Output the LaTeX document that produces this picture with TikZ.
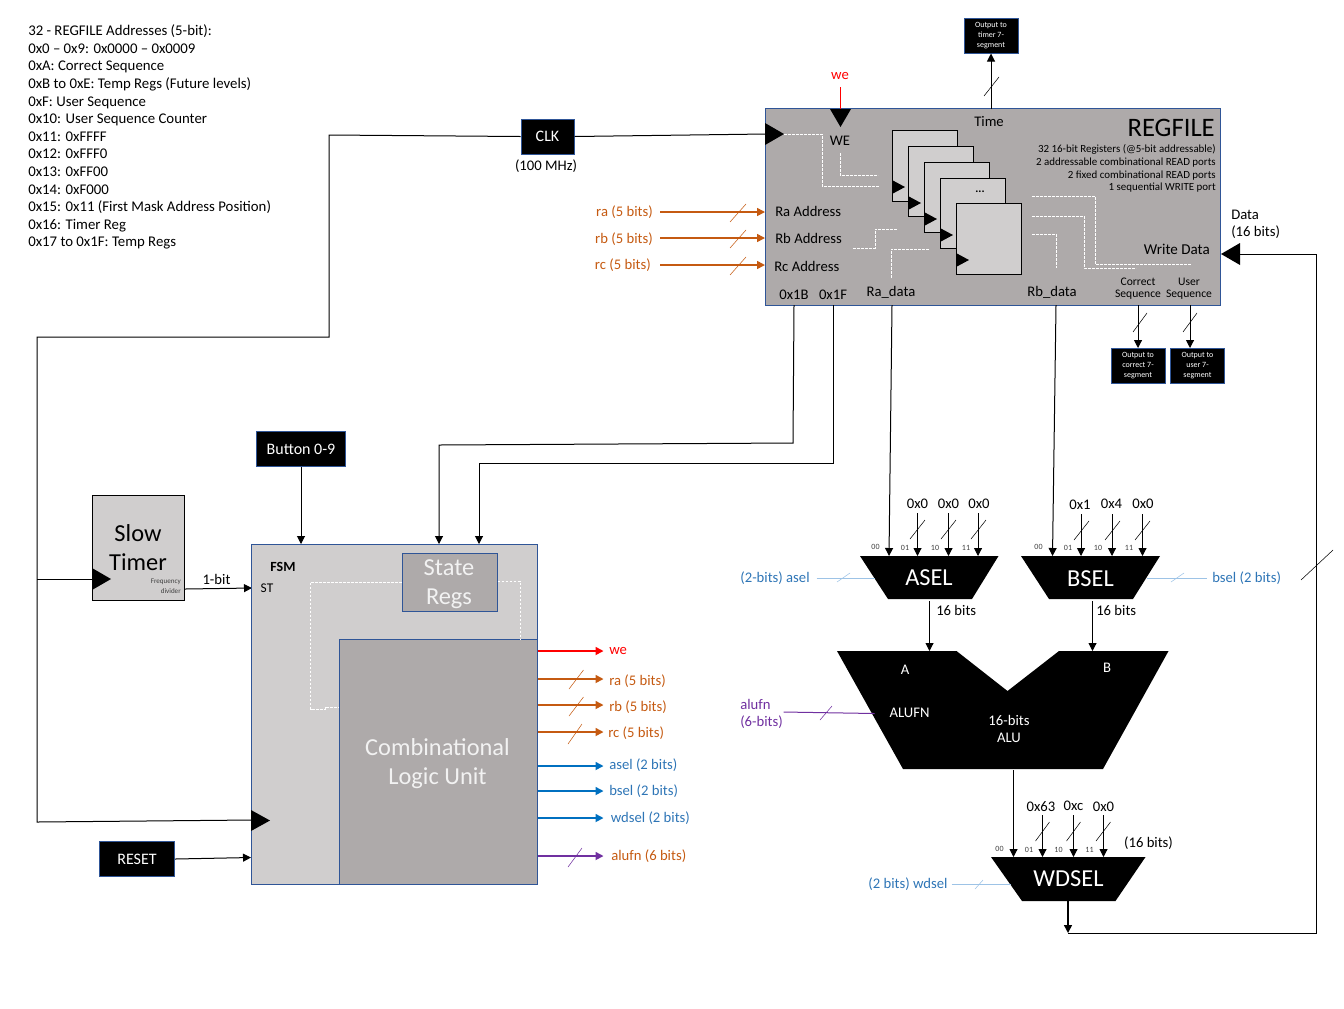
\documentclass[tikz,border=0pt]{standalone}
\usepackage{fontspec}
\setmainfont{Carlito}
\usepackage{xcolor}
\usetikzlibrary{arrows.meta,calc}
\definecolor{boxblue}{HTML}{2F5597}
\definecolor{lgrey}{HTML}{D0CECE}
\definecolor{mgrey}{HTML}{AEAAAA}
\definecolor{sigorange}{HTML}{C55A11}
\definecolor{sigblue}{HTML}{0070C0}
\definecolor{txtblue}{HTML}{2E75B6}
\definecolor{sigpurple}{HTML}{7030A0}
\definecolor{selblue}{HTML}{9DC3E6}
\tikzset{
  lbl/.style={inner sep=0pt,yshift=-0.5pt,font=\fontsize{11}{13}\selectfont},
  lblsmall/.style={inner sep=0pt,yshift=-0.5pt,font=\fontsize{8.7}{9.6}\selectfont},
  lblalu/.style={inner sep=0pt,text=white,font=\fontsize{11}{12.75}\selectfont},
  lblbig/.style={inner sep=0pt,yshift=-1pt,font=\fontsize{18.3}{22}\selectfont,align=center},
  pinlbl/.style={inner sep=0pt,text=black!75,font=\fontsize{6}{7}\selectfont},
  blackbox/.style={draw=boxblue,fill=black,text=white,inner sep=0pt,line width=0.75pt,align=center},
  btnbox/.style={blackbox,minimum height=26.25pt,font=\fontsize{12}{14}\selectfont},
  outbox/.style={blackbox,font=\fontsize{6}{7.5}\selectfont,minimum width=40.5pt,minimum height=26.25pt},
  wire/.style={line width=0.75pt},
  slash/.style={line width=0.4pt},
  dashwhite/.style={white,line width=0.75pt,dash pattern=on 2.2pt off 0.8pt},
  sig/.style={->,line width=1.2pt},
}
\begin{document}
\begin{tikzpicture}[x=0.75pt,y=-0.75pt,>={Triangle[length=6pt,width=6pt]},line join=miter]
  \useasboundingbox (0,0) rectangle (1344,1008);
  % address notes
  \node[lbl,anchor=north west,align=left,font=\fontsize{11.1}{13.2}\selectfont] (NOTES) at (28,24) {32 - REGFILE Addresses (5-bit):\\0x0 – 0x9: 0x0000 – 0x0009\\0xA: Correct Sequence\\0xB to 0xE: Temp Regs (Future levels)\\0xF: User Sequence\\0x10: User Sequence Counter\\0x11: 0xFFFF\\0x12: 0xFFF0\\0x13: 0xFF00\\0x14: 0xF000\\0x15: 0x11 (First Mask Address Position)\\0x16: Timer Reg\\0x17 to 0x1F: Temp Regs};
  % regfile
  \draw[boxblue,fill=mgrey,line width=0.75pt] (765.5,108.5) rectangle (1220.5,305);
  \coordinate (RFCLK) at (766,134);
  \coordinate (RFWE) at (840,109);
  \coordinate (RFTIME) at (991,109);
  \coordinate (RFWD) at (1240,254);
  \coordinate (RFA) at (794,305);
  \coordinate (RFF) at (833,305);
  \coordinate (RFRA) at (892,305);
  \coordinate (RFRB) at (1056,305);
  \coordinate (RFCS) at (1138,305);
  \coordinate (RFUS) at (1190,305);
  \coordinate (INRA) at (660,212);
  \coordinate (INRB) at (660,238);
  \coordinate (INRC) at (660,265);
  \coordinate (OUTRA) at (765,212);
  \coordinate (OUTRB) at (765,238);
  \coordinate (OUTRC) at (765,265);
  \draw[black,fill=lgrey,line width=0.75pt] (892,130) rectangle (957,201);
  \draw[black,fill=lgrey,line width=0.75pt] (908,146) rectangle (973,216);
  \draw[black,fill=lgrey,line width=0.75pt] (924,162) rectangle (989,232);
  \draw[black,fill=lgrey,line width=0.75pt] (940,178) rectangle (1005,248);
  \draw[black,fill=lgrey,line width=0.75pt] (956,203) rectangle (1021,274);
  \fill (892,180) -- (905,187) -- (892,194) -- cycle;
  \fill (908,196) -- (921,203) -- (908,210) -- cycle;
  \fill (924,212) -- (937,219) -- (924,226) -- cycle;
  \fill (940,228) -- (953,235) -- (940,242) -- cycle;
  \fill (956,253) -- (969,260) -- (956,267) -- cycle;
  \node[lblsmall] (DOTS) at (980,191) {\textbf{...}};
  \fill (765,123) -- (784,134) -- (765,145) -- cycle;
  \fill (830,109) -- (851,109) -- (840.5,127) -- cycle;
  \fill (1221,254) -- (1240,243) -- (1240,265) -- cycle;
  \draw[dashwhite] (784,134) -- (822,134) -- (822,186) -- (879,186);
  \draw[dashwhite] (840,153) -- (840,175) -- (878,175);
  \draw[dashwhite] (853,248) -- (875,248) -- (875,229) -- (897,229);
  \draw[dashwhite] (891,278) -- (891,249) -- (929,249);
  \draw[dashwhite] (1032,196) -- (1095,196) -- (1095,264) -- (1191,264);
  \draw[dashwhite] (1032,216) -- (1084,216) -- (1084,268) -- (1136,268);
  \draw[dashwhite] (1032,234) -- (1056,234) -- (1056,268);
  \node[lbl] (LTIME) at (989,121) {Time};
  \node[inner sep=0pt,font=\fontsize{20}{24}\selectfont,anchor=east] (LREGFILE) at (1215,128) {REGFILE};
  \node[lblsmall,anchor=north east,align=right,font=\fontsize{8.2}{9.5}\selectfont] (LSPEC) at (1216,144) {32 16-bit Registers (@5-bit addressable)\\2 addressable combinational READ ports\\2 fixed combinational READ ports\\1 sequential WRITE port};
  \node[lbl] (LWE) at (840,140) {WE};
  \node[lbl,anchor=west] (LRA) at (775,211) {Ra Address};
  \node[lbl,anchor=west] (LRB) at (775,238) {Rb Address};
  \node[lbl,anchor=west] (LRC) at (774,266) {Rc Address};
  \node[lbl] (L1B) at (794,294) {0x1B};
  \node[lbl] (L1F) at (833,294) {0x1F};
  \node[lbl] (LRAD) at (891,292) {Ra\_data};
  \node[lbl] (LRBD) at (1052,292) {Rb\_data};
  \node[lbl,anchor=east,font=\fontsize{11.3}{13}\selectfont] (LWD) at (1210,249) {Write Data};
  \node[lblsmall,align=center] (LCS) at (1138,288) {Correct\\Sequence};
  \node[lblsmall,align=center] (LUS) at (1189,288) {User\\Sequence};
  % seven segment outputs
  \node[outbox] (TIMERSEG) at (991,35.5) {Output to\\timer 7-\\segment};
  \node[outbox] (CORRSEG) at (1138,365.5) {Output to\\correct 7-\\segment};
  \node[outbox] (USERSEG) at (1197.5,365.5) {Output to\\user 7-\\segment};
  \coordinate (CORRIN) at (1138,348);
  \coordinate (USERIN) at (1190,348);
  \draw[->,wire] (RFTIME) -- (TIMERSEG.south);
  \draw[->,wire] (RFCS) -- (CORRIN);
  \draw[->,wire] (RFUS) -- (USERIN);
  \draw[slash] (984,96) -- (999,77);
  \draw[slash] (1133,332) -- (1147,313);
  \draw[slash] (1183,332) -- (1197,313);
  % write enable
  \node[lbl,text=red] (TOPWE) at (840,75) {we};
  \coordinate (WEIN) at (840,87);
  \draw[red,wire] (WEIN) -- (RFWE);
  % register address inputs
  \node[lbl,text=sigorange,anchor=east] (TOPRA) at (653,211) {ra (5 bits)};
  \node[lbl,text=sigorange,anchor=east] (TOPRB) at (653,238) {rb (5 bits)};
  \node[lbl,text=sigorange,anchor=east] (TOPRC) at (651,264) {rc (5 bits)};
  \draw[sig,sigorange] (INRA) -- (OUTRA);
  \draw[sig,sigorange] (INRB) -- (OUTRB);
  \draw[sig,sigorange] (INRC) -- (OUTRC);
  \draw[slash,sigorange] (730,222) -- (746,204);
  \draw[slash,sigorange] (730,248) -- (746,230);
  \draw[slash,sigorange] (730,275) -- (746,257);
  % clock
  \node[btnbox,minimum width=39.75pt] (CLK) at (547.5,136.5) {CLK};
  \node[lbl] (LCLK) at (546,165) {(100 MHz)};
  \coordinate (C1) at (329,135);
  \coordinate (C2) at (329,337);
  \coordinate (C3) at (37,337);
  \coordinate (C4) at (37,822);
  \coordinate (C5) at (37,579);
  \coordinate (FSMCLK) at (252,820);
  \coordinate (SLOWCLK) at (93,579);
  \draw[wire] (CLK.west) -- (C1) -- (C2) -- (C3) -- (C4) -- (FSMCLK);
  \draw[wire] (C5) -- (SLOWCLK);
  \draw[wire] (CLK.east) -- (RFCLK);
  % slow timer
  \draw[black,fill=lgrey,line width=0.75pt] (92.5,495.5) rectangle (184.5,600.5);
  \node[lblbig] (LSLOW) at (138,546.5) {Slow\\Timer};
  \node[inner sep=0pt,anchor=east,align=right,text=black!75,font=\fontsize{5.3}{7.4}\selectfont] (LFREQ) at (181,586) {Frequency\\divider};
  \fill (92,568) -- (111,579) -- (92,590) -- cycle;
  \coordinate (SLOWOUT) at (185,589);
  \coordinate (FSMST) at (252,588);
  \draw[->,wire] (SLOWOUT) -- (FSMST);
  \node[lbl] (L1BIT) at (216.5,579) {1-bit};
  % fsm
  \draw[boxblue,fill=lgrey,line width=0.75pt] (251.5,544.5) rectangle (537.5,884.5);
  \draw[boxblue,fill=mgrey,line width=0.75pt] (339.5,639.5) rectangle (537.5,884.5);
  \draw[boxblue,fill=mgrey,line width=0.75pt] (402.5,553.5) rectangle (497.5,611.5);
  \draw[dashwhite] (402,582) -- (310.5,582) -- (310.5,709) -- (325,709) -- (325,707) -- (339,707);
  \draw[dashwhite] (497.5,581) -- (520,581) -- (520,639);
  \node[lblbig,text=white!95!black] (LSTATE) at (449,582.5) {State\\Regs};
  \node[lblbig,text=white!95!black] (LCOMB) at (437.5,762.5) {Combinational\\Logic Unit};
  \node[inner sep=0pt,font=\fontsize{10.5}{12}\bfseries\selectfont] (LFSM) at (283,566.5) {FSM};
  \node[lbl,font=\fontsize{10}{12}\selectfont] (LST) at (267,588) {ST};
  \fill (251,810) -- (270,820.5) -- (251,831) -- cycle;
  \node[btnbox,minimum width=66.75pt] (BTN) at (301,449) {Button 0-9};
  \node[btnbox,minimum width=56.25pt] (RST) at (137,859) {RESET};
  \coordinate (FSMBTN) at (301,544);
  \coordinate (FSMRST) at (251,857.5);
  \coordinate (FSMA) at (439,544);
  \coordinate (FSMF) at (479,544);
  \coordinate (F1) at (793,443);
  \coordinate (F2) at (439,445);
  \coordinate (F3) at (833,463);
  \coordinate (F4) at (479,463);
  \draw[->,wire] (BTN.south) -- (FSMBTN);
  \draw[->,wire] (RST.east) -- (FSMRST);
  \draw[->,wire] (RFA) -- (F1) -- (F2) -- (FSMA);
  \draw[->,wire] (RFF) -- (F3) -- (F4) -- (FSMF);
  % control outputs
  \coordinate (CW) at (537.5,651);
  \coordinate (CRA) at (537.5,679);
  \coordinate (CRB) at (537.5,705);
  \coordinate (CRC) at (537.5,732);
  \coordinate (CAS) at (537.5,766);
  \coordinate (CBS) at (537.5,791);
  \coordinate (CWD) at (537.5,818);
  \coordinate (CAF) at (537.5,856);
  \node[lbl,text=red,anchor=west] (OWE) at (609,650.5) {we};
  \node[lbl,text=sigorange,anchor=west] (ORA) at (609,680) {ra (5 bits)};
  \node[lbl,text=sigorange,anchor=west] (ORB) at (609,706) {rb (5 bits)};
  \node[lbl,text=sigorange,anchor=west] (ORC) at (608,732) {rc (5 bits)};
  \node[lbl,text=txtblue,anchor=west] (OAS) at (609,764) {asel (2 bits)};
  \node[lbl,text=txtblue,anchor=west] (OBS) at (609,790) {bsel (2 bits)};
  \node[lbl,text=txtblue,anchor=west] (OWD) at (610.5,817) {wdsel (2 bits)};
  \node[lbl,text=sigorange,anchor=west] (OAF) at (611,855) {alufn (6 bits)};
  \draw[sig,red] (CW) -- +(66,0);
  \draw[sig,sigorange] (CRA) -- +(66,0);
  \draw[sig,sigorange] (CRB) -- +(66,0);
  \draw[sig,sigorange] (CRC) -- +(66,0);
  \draw[sig,sigblue] (CAS) -- +(66,0);
  \draw[sig,sigblue] (CBS) -- +(66,0);
  \draw[sig,sigblue] (CWD) -- +(66,0);
  \draw[sig,sigpurple] (CAF) -- +(66,0);
  \draw[slash,sigorange] (569,689) -- (583.5,670);
  \draw[slash,sigorange] (569,716) -- (583.5,697);
  \draw[slash,sigorange] (568,744) -- (582,724);
  \draw[slash,sigpurple] (568,867) -- (582,848);
  % asel
  \fill (860,556) -- (998.5,556) -- (972,599) -- (888,599) -- cycle;
  \node[lblbig,text=white] (LASEL) at (929,576) {ASEL};
  \coordinate (A00) at (889,556);
  \coordinate (A01) at (917.5,556);
  \coordinate (A10) at (948.5,556);
  \coordinate (A11) at (978,556);
  \node[lbl] (VA1) at (917.5,503) {0x0};
  \node[lbl] (VA2) at (948.5,503) {0x0};
  \node[lbl] (VA3) at (979,503) {0x0};
  \draw[->,wire] (RFRA) -- (A00);
  \draw[->,wire] (917.5,513) -- (A01);
  \draw[->,wire] (948.5,513) -- (A10);
  \draw[->,wire] (978,513) -- (A11);
  \draw[slash] (910,539) -- (925,520);
  \draw[slash] (941,539) -- (956,520);
  \draw[slash] (971,539) -- (986,520);
  \node[pinlbl] (PA0) at (875.5,547) {00};
  \node[pinlbl] (PA1) at (905,548) {01};
  \node[pinlbl] (PA2) at (935,548) {10};
  \node[pinlbl] (PA3) at (966,548) {11};
  \node[lbl,text=txtblue] (LAS) at (775,577) {(2-bits) asel};
  \draw[selblue,wire] (816.5,578) -- (875,578);
  \draw[slash,selblue] (837,582) -- (850,573);
  % bsel
  \fill (1021,556) -- (1160,556) -- (1133,599) -- (1049,599) -- cycle;
  \node[lblbig,text=white] (LBSEL) at (1090.5,577) {BSEL};
  \coordinate (B00) at (1052.5,556);
  \coordinate (B01) at (1081,556);
  \coordinate (B10) at (1112,556);
  \coordinate (B11) at (1142.5,556);
  \node[lbl] (VB1) at (1080,504) {0x1};
  \node[lbl] (VB2) at (1111.5,503) {0x4};
  \node[lbl] (VB3) at (1143,503) {0x0};
  \draw[->,wire] (RFRB) -- (B00);
  \draw[->,wire] (1081,514) -- (B01);
  \draw[->,wire] (1112,514) -- (B10);
  \draw[->,wire] (1142.5,514) -- (B11);
  \draw[slash] (1074,540) -- (1089,521);
  \draw[slash] (1105,540) -- (1120,521);
  \draw[slash] (1135,540) -- (1150,521);
  \node[pinlbl] (PB0) at (1038.5,547) {00};
  \node[pinlbl] (PB1) at (1068,548) {01};
  \node[pinlbl] (PB2) at (1098,548) {10};
  \node[pinlbl] (PB3) at (1129,548) {11};
  \node[lbl,text=txtblue,anchor=west] (LBS) at (1212,577) {bsel (2 bits)};
  \draw[selblue,wire] (1147,578) -- (1206.5,578);
  \draw[slash,selblue] (1171,582) -- (1184,573);
  % alu
  \fill (837,651) -- (956.5,651) -- (1007.5,691) -- (1059,651) -- (1168.5,651) -- (1103,769) -- (903,769) -- cycle;
  \coordinate (ASELOUT) at (929.5,601);
  \coordinate (BSELOUT) at (1092.5,601);
  \coordinate (ALUA) at (929.5,651);
  \coordinate (ALUB) at (1092.5,651);
  \draw[->,wire] (ASELOUT) -- (ALUA);
  \draw[->,wire] (BSELOUT) -- (ALUB);
  \node[lbl,anchor=west] (LA16) at (936,610) {16 bits};
  \node[lbl,anchor=west] (LB16) at (1096,610) {16 bits};
  \node[lblalu] (LA) at (905,670) {A};
  \node[lblalu] (LB) at (1107,667.5) {B};
  \node[lblalu] (LALUFN) at (909.5,712.5) {ALUFN};
  \node[lblalu,align=center] (LALU) at (1009,729) {16-bits\\ALU};
  \node[lbl,text=sigpurple,anchor=west,align=left] (LAF) at (740,713.5) {alufn\\(6-bits)};
  \draw[sigpurple,wire] (783.5,712) -- (874.5,713.5);
  \draw[slash,sigpurple] (820,720) -- (832,706);
  % wdsel
  \fill (991,857) -- (1145.5,857) -- (1115.5,901) -- (1022,901) -- cycle;
  \node[lblbig,text=white] (LWDSEL) at (1068.5,877) {WDSEL};
  \coordinate (ALUOUT) at (1013.5,770);
  \coordinate (W00) at (1013.5,857);
  \coordinate (W01) at (1042.5,857);
  \coordinate (W10) at (1073.5,857);
  \coordinate (W11) at (1103.5,857);
  \node[lbl] (VW1) at (1041,805.5) {0x63};
  \node[lbl] (VW2) at (1073.5,805.5) {0xc};
  \node[lbl] (VW3) at (1103.5,806.5) {0x0};
  \draw[->,wire] (ALUOUT) -- (W00);
  \draw[->,wire] (1042.5,815) -- (W01);
  \draw[->,wire] (1073.5,815) -- (W10);
  \draw[->,wire] (1103.5,815) -- (W11);
  \draw[slash] (1035.5,841) -- (1049.5,822);
  \draw[slash] (1066.5,841) -- (1080.5,822);
  \draw[slash] (1096,841) -- (1110.5,822);
  \node[pinlbl] (PW0) at (999.5,849) {00};
  \node[pinlbl] (PW1) at (1029,850) {01};
  \node[pinlbl] (PW2) at (1058.5,850) {10};
  \node[pinlbl] (PW3) at (1089.5,850) {11};
  \node[lbl] (L16W) at (1148.5,842.5) {(16 bits)};
  \node[lbl,text=txtblue] (LWS) at (908,883.5) {(2 bits) wdsel};
  \draw[selblue,wire] (951.5,884) -- (1010.5,884);
  \draw[slash,selblue] (975,889) -- (983,880);
  % write data feedback
  \coordinate (WOUT) at (1068,901);
  \coordinate (WEND) at (1068,933);
  \coordinate (W1) at (1316,933);
  \coordinate (W2) at (1316,254);
  \draw[->,line width=1.1pt] (WOUT) -- (WEND);
  \draw[wire] (WEND) -- (W1) -- (W2) -- (RFWD);
  \node[lbl,anchor=west,align=left] (LDATA) at (1231,223.5) {Data\\(16 bits)};
  \draw[slash] (1301,580) -- (1333,550);
\end{tikzpicture}
\end{document}
